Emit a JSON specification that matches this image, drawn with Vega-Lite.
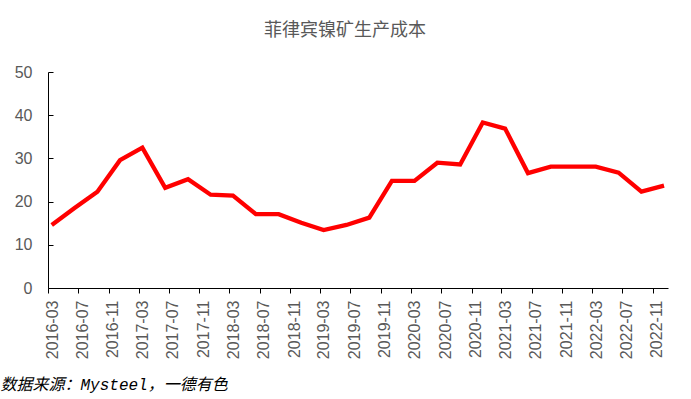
{
  "$schema": "https://vega.github.io/schema/vega-lite/v6.json",
  "width": 620,
  "height": 216,
  "autosize": {"type": "none"},
  "padding": {"left": 48, "top": 72, "right": 23, "bottom": 111},
  "background": "white",
  "title": {
    "text": "菲律宾镍矿生产成本",
    "font": "Noto Sans CJK SC",
    "fontSize": 18,
    "fontWeight": "normal",
    "color": "#595959",
    "anchor": "middle",
    "dx": -13,
    "offset": 24
  },
  "config": {"view": {"stroke": null}},
  "data": {
    "values": [
      {"date": "2016-03-16", "cost": 14.6},
      {"date": "2016-06-16", "cost": 18.5},
      {"date": "2016-09-16", "cost": 22.3},
      {"date": "2016-12-16", "cost": 29.6},
      {"date": "2017-03-16", "cost": 32.5},
      {"date": "2017-06-16", "cost": 23.2},
      {"date": "2017-09-16", "cost": 25.2},
      {"date": "2017-12-16", "cost": 21.6},
      {"date": "2018-03-16", "cost": 21.4},
      {"date": "2018-06-16", "cost": 17.1},
      {"date": "2018-09-16", "cost": 17.1},
      {"date": "2018-12-16", "cost": 15.1},
      {"date": "2019-03-16", "cost": 13.4},
      {"date": "2019-06-16", "cost": 14.6},
      {"date": "2019-09-16", "cost": 16.3},
      {"date": "2019-12-16", "cost": 24.8},
      {"date": "2020-03-16", "cost": 24.8},
      {"date": "2020-06-16", "cost": 29.0},
      {"date": "2020-09-16", "cost": 28.6},
      {"date": "2020-12-16", "cost": 38.3},
      {"date": "2021-03-16", "cost": 36.9},
      {"date": "2021-06-16", "cost": 26.6},
      {"date": "2021-09-16", "cost": 28.1},
      {"date": "2021-12-16", "cost": 28.1},
      {"date": "2022-03-16", "cost": 28.1},
      {"date": "2022-06-16", "cost": 26.7},
      {"date": "2022-09-16", "cost": 22.3},
      {"date": "2022-12-16", "cost": 23.7}
    ]
  },
  "mark": {"type": "line", "color": "#FF0000", "strokeWidth": 4.3, "strokeJoin": "miter"},
  "encoding": {
    "x": {
      "field": "date",
      "type": "temporal",
      "scale": {
        "type": "utc",
        "domain": [
          {"year": 2016, "month": 3, "date": 1, "utc": true},
          {"year": 2023, "month": 1, "date": 1, "utc": true}
        ]
      },
      "axis": {
        "values": [
          {"year": 2016, "month": 3, "date": 1, "utc": true},
          {"year": 2016, "month": 7, "date": 1, "utc": true},
          {"year": 2016, "month": 11, "date": 1, "utc": true},
          {"year": 2017, "month": 3, "date": 1, "utc": true},
          {"year": 2017, "month": 7, "date": 1, "utc": true},
          {"year": 2017, "month": 11, "date": 1, "utc": true},
          {"year": 2018, "month": 3, "date": 1, "utc": true},
          {"year": 2018, "month": 7, "date": 1, "utc": true},
          {"year": 2018, "month": 11, "date": 1, "utc": true},
          {"year": 2019, "month": 3, "date": 1, "utc": true},
          {"year": 2019, "month": 7, "date": 1, "utc": true},
          {"year": 2019, "month": 11, "date": 1, "utc": true},
          {"year": 2020, "month": 3, "date": 1, "utc": true},
          {"year": 2020, "month": 7, "date": 1, "utc": true},
          {"year": 2020, "month": 11, "date": 1, "utc": true},
          {"year": 2021, "month": 3, "date": 1, "utc": true},
          {"year": 2021, "month": 7, "date": 1, "utc": true},
          {"year": 2021, "month": 11, "date": 1, "utc": true},
          {"year": 2022, "month": 3, "date": 1, "utc": true},
          {"year": 2022, "month": 7, "date": 1, "utc": true},
          {"year": 2022, "month": 11, "date": 1, "utc": true}
        ],
        "labelExpr": "utcFormat(datum.value, '%Y-%m')",
        "labelAngle": -90,
        "labelAlign": "right",
        "labelBaseline": "middle",
        "labelOffset": 4,
        "labelFont": "Liberation Sans",
        "labelFontSize": 16,
        "labelColor": "#595959",
        "labelPadding": 7,
        "labelOverlap": false,
        "labelFlush": false,
        "tickSize": 5,
        "tickColor": "#000000",
        "domainColor": "#000000",
        "grid": false,
        "title": "数据来源：Mysteel，一德有色",
        "titleFont": "Liberation Mono, Noto Sans CJK SC",
        "titleFontStyle": "italic",
        "titleFontWeight": "normal",
        "titleFontSize": 16,
        "titleColor": "#000000",
        "titleAlign": "left",
        "titleBaseline": "alphabetic",
        "titleX": -48,
        "titleY": 101
      }
    },
    "y": {
      "field": "cost",
      "type": "quantitative",
      "scale": {"domain": [0, 50], "nice": false, "zero": true},
      "axis": {
        "values": [0, 10, 20, 30, 40, 50],
        "title": null,
        "grid": false,
        "labelFont": "Liberation Sans",
        "labelFontSize": 16,
        "labelColor": "#595959",
        "labelPadding": 21,
        "tickSize": -5,
        "tickColor": "#000000",
        "domainColor": "#000000"
      }
    }
  }
}
